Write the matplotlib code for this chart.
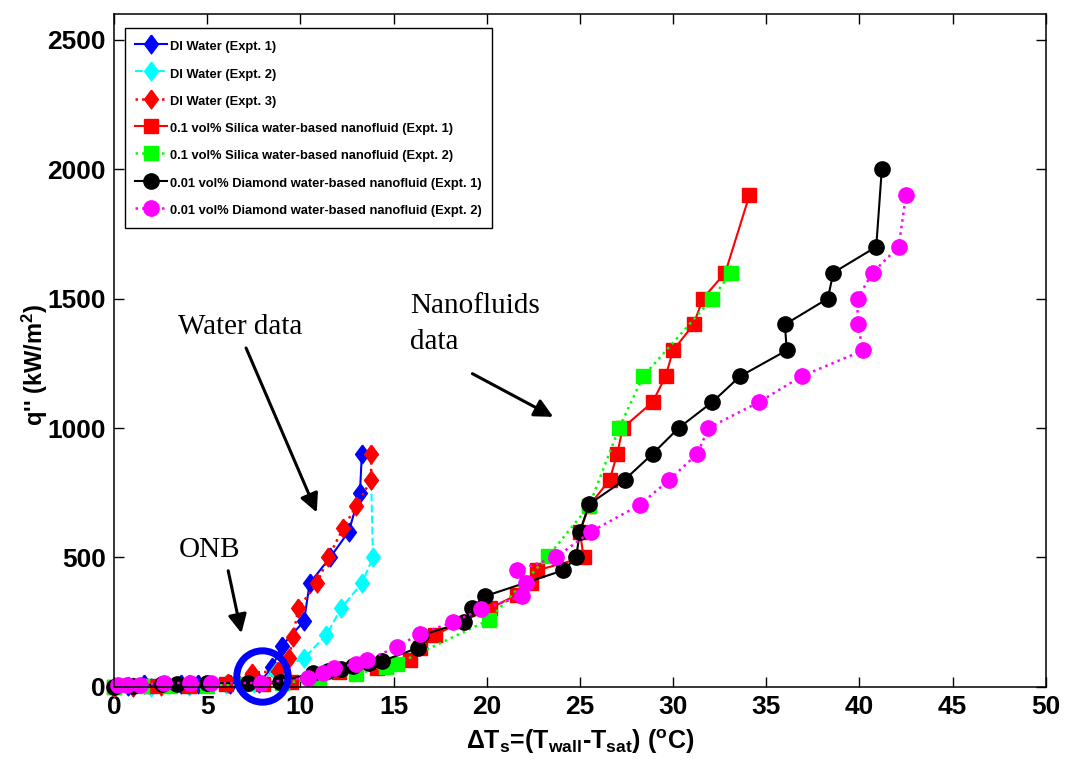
import matplotlib
matplotlib.use('Agg')
import matplotlib.pyplot as plt

# ---- data (Delta T in C, q'' in kW/m2) ----
di1_x = [0.0, 0.75, 1.6, 3.6, 4.5, 6.2, 7.8, 8.5, 9.0, 10.2, 10.5, 11.6, 12.6, 13.2, 13.3]
di1_y = [0, 5, 10, 10, 10, 10, 15, 77, 158, 254, 400, 500, 600, 750, 900]

di2_x = [0.0, 1.0, 2.0, 4.0, 6.0, 7.5, 8.7, 9.0, 10.2, 11.4, 12.2, 13.3, 13.9, 13.8]
di2_y = [0, 0, 0, 5, 10, 15, 58, 73, 112, 200, 305, 400, 500, 800]

di3_x = [0.0, 1.0, 2.5, 4.0, 6.1, 7.4, 8.8, 9.4, 9.6, 9.9, 10.9, 11.5, 12.3, 13.0, 13.8, 13.8]
di3_y = [0, 0, 5, 10, 15, 55, 60, 112, 193, 305, 400, 500, 613, 698, 800, 900]

si1_x = [0.0, 2.0, 4.0, 6.0, 8.0, 9.5, 11.0, 12.1, 14.1, 15.9, 16.4, 17.2, 20.2, 21.6, 22.4,
         22.7, 25.2, 25.0, 25.5, 26.6, 27.0, 27.3, 28.9, 29.6, 30.0, 31.1, 31.6, 32.8, 34.1]
si1_y = [0, 5, 5, 10, 10, 20, 30, 58, 73, 104, 150, 200, 304, 355, 400,
         450, 500, 600, 700, 800, 900, 1000, 1100, 1200, 1300, 1400, 1500, 1600, 1900]

si2_x = [0.0, 1.5, 3.0, 5.0, 7.0, 9.0, 11.0, 13.0, 14.6, 15.2, 20.1, 23.3, 25.5, 27.1, 28.4, 32.1, 33.1]
si2_y = [0, 5, 5, 5, 10, 15, 30, 50, 77, 89, 258, 505, 700, 1000, 1200, 1500, 1600]

dm1_x = [0.0, 1.0, 2.6, 3.4, 5.0, 7.2, 8.9, 10.7, 11.5, 12.2, 12.8, 13.7, 14.4, 16.3, 16.5,
         18.8, 19.2, 19.9, 24.1, 24.8, 25.0, 25.5, 27.4, 28.9, 30.3, 32.1, 33.6, 36.1, 36.0,
         38.3, 38.6, 40.9, 41.2]
dm1_y = [0, 5, 10, 10, 15, 15, 20, 54, 60, 70, 80, 93, 100, 150, 200,
         250, 304, 350, 450, 500, 600, 706, 800, 900, 1000, 1100, 1200, 1300, 1400,
         1500, 1600, 1700, 2000]

dm2_x = [0.2, 0.7, 1.4, 2.7, 4.1, 5.2, 7.9, 10.4, 11.2, 11.8, 13.0, 13.6, 15.2, 16.4,
         18.2, 19.7, 21.9, 22.1, 21.6, 23.7, 25.6, 28.2, 29.8, 31.3, 31.9, 34.6, 36.9,
         40.2, 39.9, 39.9, 40.7, 42.1, 42.5]
dm2_y = [8, 8, 8, 15, 15, 15, 15, 35, 54, 73, 89, 104, 155, 205,
         250, 300, 350, 400, 450, 500, 600, 702, 800, 900, 1000, 1100, 1200,
         1300, 1400, 1500, 1600, 1700, 1900]

labels = ['DI Water (Expt. 1)',
          'DI Water (Expt. 2)',
          'DI Water (Expt. 3)',
          '0.1 vol% Silica water-based nanofluid (Expt. 1)',
          '0.1 vol% Silica water-based nanofluid (Expt. 2)',
          '0.01 vol% Diamond water-based nanofluid (Expt. 1)',
          '0.01 vol% Diamond water-based nanofluid (Expt. 2)']

x_ticks = [0, 5, 10, 15, 20, 25, 30, 35, 40, 45, 50]
y_ticks = [0, 500, 1000, 1500, 2000, 2500]

# ---- figure style ----
plt.rcParams.update({'font.family': 'Liberation Sans',
                     'font.weight': 'bold',
                     'mathtext.fontset': 'custom',
                     'mathtext.rm': 'Liberation Sans:bold',
                     'mathtext.it': 'Liberation Sans:bold',
                     'mathtext.bf': 'Liberation Sans:bold'})
plt.rcParams['xtick.direction'] = 'in'
plt.rcParams['ytick.direction'] = 'in'

fig = plt.figure(figsize=(10.65, 7.7), dpi=100)
ax = fig.add_axes([0.107, 0.108, 0.875, 0.874])

# MATLAB-ish diamond: taller than wide
diamond = [(0, 1), (0.74, 0), (0, -1), (-0.74, 0), (0, 1)]

ax.plot(di1_x, di1_y, '-', color='blue', lw=1.5, marker=diamond, ms=13.5, label=labels[0], clip_on=False)
ax.plot(di2_x, di2_y, '--', color='cyan', lw=1.5, marker=diamond, ms=13.5, label=labels[1], clip_on=False)
ax.plot(di3_x, di3_y, ':', color='red', lw=1.8, marker=diamond, ms=13.5, label=labels[2], clip_on=False)
ax.plot(si1_x, si1_y, '-', color='red', lw=1.5, marker='s', ms=9.8, label=labels[3], clip_on=False)
ax.plot(si2_x, si2_y, ':', color='lime', lw=1.8, marker='s', ms=9.8, label=labels[4], clip_on=False)
ax.plot(dm1_x, dm1_y, '-', color='black', lw=1.5, marker='o', ms=11, label=labels[5], clip_on=False)
ax.plot(dm2_x, dm2_y, ':', color='magenta', lw=1.8, marker='o', ms=11, label=labels[6], clip_on=False)

# ONB circle
ax.plot([7.95], [42], 'o', mfc='none', mec='blue', mew=5, ms=37, clip_on=False, zorder=10)

ax.set_xlim(0, 50)
ax.set_ylim(0, 2600)
ax.set_xticks(x_ticks)
ax.set_yticks(y_ticks)
ax.tick_params(axis='both', which='major', labelsize=19, length=7, width=1,
               top=True, right=True, pad=6)
for lab in ax.get_xticklabels() + ax.get_yticklabels():
    lab.set_fontweight('bold')
for sp in ax.spines.values():
    sp.set_linewidth(1.1)

ax.set_xlabel('ΔT$_\\mathregular{s}$=(T$_\\mathregular{wall}$-T$_\\mathregular{sat}$) ($\\mathregular{^oC}$)',
              fontsize=18, fontweight='bold', labelpad=6)
ax.set_ylabel("q'' (kW/m$\\mathregular{^2}$)", fontsize=17, fontweight='bold')
ax.yaxis.set_label_coords(-0.069, 0.478)

# annotations
serif = 'Liberation Serif'
ax.text(6.76, 1389, 'Water data', fontsize=21, family=serif, fontweight='normal',
        ha='center', va='center')
ax.annotate('', xy=(10.94, 664), xytext=(7.03, 1319),
            arrowprops=dict(arrowstyle='-|>', lw=2.2, color='black', mutation_scale=28))
ax.text(15.9, 1400, 'Nanofluids\ndata', fontsize=21, family=serif, fontweight='normal',
        ha='left', va='center', linespacing=1.5)
ax.annotate('', xy=(23.7, 1038), xytext=(19.1, 1215),
            arrowprops=dict(arrowstyle='-|>', lw=2.2, color='black', mutation_scale=28))
ax.text(5.15, 528, 'ONB', fontsize=21, family=serif, fontweight='normal',
        ha='center', va='center')
ax.annotate('', xy=(6.87, 197), xytext=(6.1, 459),
            arrowprops=dict(arrowstyle='-|>', lw=2.2, color='black', mutation_scale=28))

leg = ax.legend(loc='upper left', bbox_to_anchor=(0.012, 0.979), fancybox=False, framealpha=1,
                edgecolor='black', handlelength=2.5, handleheight=1.6, handletextpad=0.25,
                labelspacing=0.83, borderpad=0.75, borderaxespad=0.0,
                prop={'family': 'Liberation Sans', 'weight': 'bold', 'size': 9.3})
leg.get_frame().set_linewidth(1.0)

plt.savefig('out.png', dpi=100)
